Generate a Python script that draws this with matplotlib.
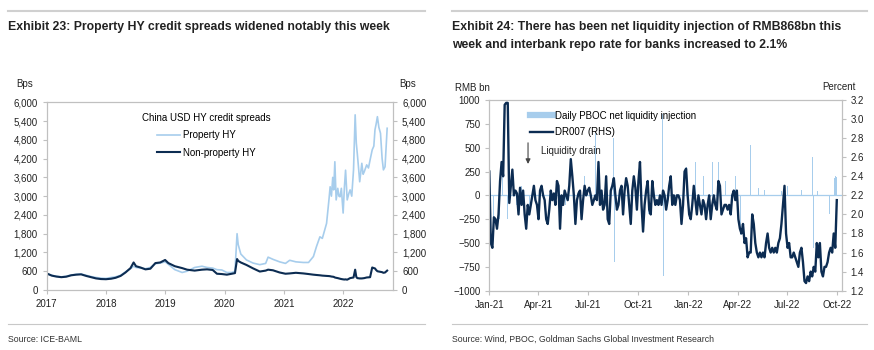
import matplotlib
matplotlib.use("Agg")
import matplotlib.pyplot as plt
import matplotlib.dates as mdates
import matplotlib.ticker as mticker
from matplotlib.lines import Line2D
import pandas as pd

# Exhibit 23: China USD HY credit spreads (bps)
hy_dates = ["2017-01-01", "2017-02-01", "2017-03-01", "2017-04-01", "2017-05-01", "2017-06-01",
            "2017-07-01", "2017-08-01", "2017-09-01", "2017-10-01", "2017-11-01", "2017-12-01",
            "2018-01-01", "2018-02-01", "2018-03-01", "2018-04-01", "2018-05-01", "2018-06-01",
            "2018-06-20", "2018-07-05", "2018-08-01", "2018-09-01", "2018-10-01", "2018-11-01",
            "2018-12-01", "2018-12-31", "2019-01-20", "2019-03-01", "2019-04-15", "2019-05-15",
            "2019-07-01", "2019-08-15", "2019-09-15", "2019-10-20", "2019-11-15", "2019-12-15",
            "2020-01-15", "2020-02-15", "2020-03-05", "2020-03-18", "2020-03-25", "2020-04-10",
            "2020-05-15", "2020-06-25", "2020-08-05", "2020-09-10", "2020-09-25", "2020-10-25",
            "2020-12-05", "2021-01-10", "2021-02-05", "2021-03-15", "2021-04-30", "2021-06-01",
            "2021-07-01", "2021-07-20", "2021-08-10", "2021-08-25", "2021-09-20", "2021-10-05",
            "2021-10-12", "2021-10-20", "2021-10-28", "2021-11-03", "2021-11-10", "2021-11-18",
            "2021-11-28", "2021-12-05", "2021-12-12", "2021-12-20", "2021-12-31", "2022-01-08",
            "2022-01-15", "2022-01-25", "2022-02-05", "2022-02-12", "2022-02-22", "2022-03-05",
            "2022-03-15", "2022-03-22", "2022-03-28", "2022-04-05", "2022-04-12", "2022-04-25",
            "2022-05-03", "2022-05-10", "2022-05-25", "2022-06-05", "2022-06-15", "2022-06-28",
            "2022-07-08", "2022-07-15", "2022-07-22", "2022-07-30", "2022-08-08", "2022-08-18",
            "2022-08-28", "2022-09-05", "2022-09-15", "2022-09-28"]
nonprop_hy = [530, 460, 430, 410, 425, 470,
              490, 500, 450, 410, 370, 350,
              345, 360, 390, 450, 560, 700,
              880, 760, 720, 660, 680, 860,
              880, 960, 860, 760, 700, 650,
              620, 650, 660, 640, 520, 510,
              490, 520, 540, 990, 930, 880,
              800, 690, 590, 620, 650, 630,
              560, 520, 530, 550, 530, 510,
              490, 480, 470, 460, 450, 445,
              440, 430, 425, 420, 400, 390,
              380, 370, 360, 350, 340, 335,
              340, 330, 360, 380, 390, 400,
              650, 420, 380, 375, 370, 370,
              375, 380, 400, 405, 410, 720,
              700, 690, 640, 600, 590, 580,
              570, 550, 560, 620]
prop_hy = [520, 470, 440, 420, 440, 480,
           500, 510, 470, 430, 400, 380,
           370, 400, 420, 470, 580, 680,
           760, 720, 700, 680, 720, 840,
           860, 900, 820, 650, 560, 600,
           720, 760, 720, 700, 650, 640,
           560, 560, 600, 1800, 1450, 1150,
           960, 860, 810, 850, 1050, 980,
           900, 850, 950, 900, 880, 880,
           1070, 1390, 1700, 1650, 2130, 2900,
           3300, 3000, 3600, 3200, 4100, 2880,
           3250, 3000, 2980, 3250, 2460, 3300,
           3830, 2880, 3100, 3200, 3000, 3840,
           5600, 4700, 4370, 3900, 3460, 4050,
           3700, 3780, 4000, 3900, 4160, 4480,
           4600, 5120, 5300, 5540, 5200, 5010,
           4200, 3840, 3940, 5170]

# Exhibit 24: DR007 (percent), roughly every 3 days from Jan-21 to end Sep-22
dr_start, dr_end = "2021-01-01", "2022-09-30"
dr007 = [2.45, 1.70, 1.65, 1.97, 1.95, 1.85, 2.00, 2.35, 2.55, 2.40,
         3.15, 3.17, 3.17, 2.12, 2.30, 2.47, 2.20, 2.25, 2.22, 2.00,
         2.28, 2.10, 2.25, 2.00, 1.85, 2.10, 2.00, 2.10, 2.20, 2.30,
         2.15, 2.10, 1.95, 2.25, 2.30, 2.20, 2.15, 1.95, 1.90, 2.05,
         2.25, 2.15, 2.22, 2.10, 2.35, 2.30, 1.85, 2.20, 2.10, 2.25,
         2.20, 2.15, 2.30, 2.58, 2.40, 2.20, 1.90, 2.15, 2.22, 2.25,
         1.95, 2.15, 2.30, 2.20, 2.25, 2.28, 2.20, 2.10, 2.15, 2.20,
         2.15, 2.55, 2.10, 2.25, 2.05, 2.10, 2.40, 1.95, 1.90, 2.25,
         2.30, 2.38, 2.20, 2.05, 2.10, 2.25, 2.30, 2.00, 2.25, 2.38,
         2.30, 2.10, 1.90, 2.25, 2.40, 2.28, 2.05, 2.35, 2.55, 2.10,
         1.82, 2.10, 2.25, 2.35, 2.05,
         2.00, 2.35, 2.20, 2.10, 2.15, 2.10, 2.20, 2.10, 2.25, 2.20,
         2.05, 2.15, 2.30, 2.40, 2.10, 2.20, 2.10, 2.20, 2.20, 2.15,
         1.90, 2.10, 2.45, 2.48, 2.20, 2.00, 1.95, 2.10, 2.30, 2.15,
         2.00, 2.20, 2.10, 2.00, 2.15, 2.10, 1.95, 2.10, 2.20, 1.95,
         2.10, 2.20, 2.10, 2.05, 2.35, 2.30, 2.00, 2.05, 2.10, 2.10,
         2.05, 2.10, 2.00, 2.20, 2.25, 2.15, 2.25, 1.95, 1.85, 1.80,
         1.90, 1.70, 1.75, 1.55, 1.60, 1.60, 2.00, 1.90, 1.70, 1.60,
         1.55, 1.60, 1.55, 1.60, 1.55, 1.70, 1.80, 1.65, 1.60, 1.65,
         1.60, 1.65, 1.60, 1.70, 1.75, 1.90, 2.10, 2.30, 1.80, 1.65,
         1.70, 1.55, 1.55, 1.60, 1.55, 1.50, 1.45, 1.60, 1.65, 1.50,
         1.30, 1.28, 1.35, 1.30, 1.40, 1.35, 1.45, 1.40, 1.70, 1.55,
         1.70, 1.40, 1.35, 1.45, 1.45, 1.50, 1.60, 1.65, 1.60, 1.80,
         1.65, 2.15]

# daily PBOC net liquidity injection (RMB bn), larger days only
liq_dates = ["2021-01-04", "2021-01-08", "2021-01-15", "2021-01-20", "2021-01-25", "2021-01-28",
             "2021-02-03", "2021-02-08", "2021-02-20", "2021-03-01", "2021-03-15", "2021-04-15",
             "2021-05-20", "2021-06-25", "2021-07-15", "2021-08-16", "2021-08-18", "2021-09-25",
             "2021-10-20", "2021-11-14", "2021-11-16", "2021-12-13", "2021-12-28", "2022-01-14",
             "2022-01-28", "2022-02-14", "2022-02-25", "2022-03-10", "2022-03-29", "2022-04-06",
             "2022-04-25", "2022-05-10", "2022-05-20", "2022-06-20", "2022-07-01", "2022-07-08",
             "2022-07-28", "2022-08-17", "2022-08-18", "2022-08-26", "2022-09-16", "2022-09-26",
             "2022-09-28", "2022-09-29", "2022-09-30"]
liq_values = [-400, -300, -150, -250, 200, 300,
              -250, 250, -100, 100, -150, 100,
              -100, 200, 650, 600, -700, 150,
              -200, 850, -850, 750, 300, 350,
              200, 350, 350, 150, 200, -420,
              530, 80, 60, 50, 100, -80,
              60, 400, -550, 50, -200, 180,
              200, 150, 190]

LIGHT = "#a7cdec"
DARK = "#0c2c52"
FRAME = "#c0c0c0"
TXT = "#222222"

plt.rcParams["font.family"] = ["Liberation Sans", "DejaVu Sans"]
plt.rcParams["font.size"] = 7

fig = plt.figure(figsize=(8.74, 3.5), dpi=100)

title_font = dict(family=["Liberation Sans", "DejaVu Sans"], weight="bold",
                  size=8.8, color="#222222")

# header / footer rules
for x0, x1 in [(8, 425), (452, 867)]:
    fig.add_artist(Line2D([x0 / 874, x1 / 874], [1 - 11 / 350] * 2, color="#d0d0d0", lw=1.5))
    fig.add_artist(Line2D([x0 / 874, x1 / 874], [1 - 324 / 350] * 2, color="#c8c8c8", lw=0.8))

fig.text(8 / 874, 1 - 27 / 350, "Exhibit 23: Property HY credit spreads widened notably this week",
         va="center", ha="left", **title_font)
fig.text(452 / 874, 1 - 27 / 350, "Exhibit 24: There has been net liquidity injection of RMB868bn this",
         va="center", ha="left", **title_font)
fig.text(452 / 874, 1 - 45 / 350, "week and interbank repo rate for banks increased to 2.1%",
         va="center", ha="left", **title_font)

src_font = dict(family=["Liberation Sans", "DejaVu Sans"], size=6.3, color="#333333")
fig.text(8 / 874, 1 - 339 / 350, "Source: ICE-BAML", va="center", ha="left", **src_font)
fig.text(452 / 874, 1 - 339 / 350, "Source: Wind, PBOC, Goldman Sachs Global Investment Research",
         va="center", ha="left", **src_font)


def style_frame(ax):
    for s in ax.spines.values():
        s.set_color(FRAME)
        s.set_linewidth(0.8)
    ax.tick_params(colors=FRAME, labelcolor=TXT, length=3, width=0.8, labelsize=7)


# ---- Exhibit 23 ----
ax1 = fig.add_axes([46.7 / 874, 1 - 290 / 350, (393 - 46.7) / 874, (290 - 102.3) / 350])
d1 = pd.to_datetime(hy_dates)
ax1.plot(d1, prop_hy, color=LIGHT, lw=1.2, label="Property HY")
ax1.plot(d1, nonprop_hy, color=DARK, lw=1.5, label="Non-property HY")
ax1.set_ylim(0, 6000)
ax1.set_xlim(pd.Timestamp("2017-01-01"), pd.Timestamp("2022-11-03"))
ax1.set_yticks(range(0, 6001, 600))
ax1.yaxis.set_major_formatter(mticker.StrMethodFormatter("{x:,.0f}"))
ax1.xaxis.set_major_locator(mdates.YearLocator())
ax1.xaxis.set_major_formatter(mdates.DateFormatter("%Y"))
style_frame(ax1)
ax1r = ax1.twinx()
ax1r.set_ylim(0, 6000)
ax1r.set_yticks(range(0, 6001, 600))
ax1r.yaxis.set_major_formatter(mticker.StrMethodFormatter("{x:,.0f}"))
style_frame(ax1r)
ax1.legend(title="China USD HY credit spreads", loc="upper left",
           bbox_to_anchor=(0.25, 0.99), frameon=False, fontsize=7,
           title_fontsize=7, handlelength=2.4, labelspacing=0.75, handletextpad=0.3)
fig.text(25 / 874, 1 - 84 / 350, "Bps", ha="center", va="center", color=TXT)
fig.text(408 / 874, 1 - 84 / 350, "Bps", ha="center", va="center", color=TXT)

# ---- Exhibit 24 ----
ax2 = fig.add_axes([489.3 / 874, 1 - 290.7 / 350, (841.7 - 489.3) / 874, (290.7 - 100) / 350])
ax2.axhline(0, color=LIGHT, lw=0.9, zorder=1)
ax2.bar(pd.to_datetime(liq_dates), liq_values, width=1.6, color=LIGHT, linewidth=0, zorder=2)
ax2.set_ylim(-1000, 1000)
ax2.set_yticks(range(-1000, 1001, 250))
ax2.set_xlim(pd.Timestamp("2021-01-01"), pd.Timestamp("2022-10-09"))
ax2.xaxis.set_major_locator(mdates.MonthLocator(bymonth=[1, 4, 7, 10]))
ax2.xaxis.set_major_formatter(mdates.DateFormatter("%b-%y"))
style_frame(ax2)
ax2r = ax2.twinx()
dr_d = pd.date_range(dr_start, dr_end, periods=len(dr007))
ax2r.plot(dr_d, dr007, color=DARK, lw=1.7)
ax2r.set_ylim(1.2, 3.2)
ax2r.set_yticks([1.2 + 0.2 * i for i in range(11)])
ax2r.yaxis.set_major_formatter(mticker.StrMethodFormatter("{x:.1f}"))
style_frame(ax2r)
h = [Line2D([], [], color=LIGHT, lw=4.5), Line2D([], [], color=DARK, lw=1.7)]
ax2r.legend(h, ["Daily PBOC net liquidity injection", "DR007 (RHS)"], loc="upper left",
            bbox_to_anchor=(0.09, 0.99), frameon=False, fontsize=7, handlelength=2.4,
            labelspacing=0.7, handletextpad=0.2)
ax2r.annotate("", xy=(pd.Timestamp("2021-03-13"), 2.50), xytext=(pd.Timestamp("2021-03-13"), 2.78),
              arrowprops=dict(arrowstyle="-|>", color="#444444", lw=0.8, mutation_scale=7))
ax2r.text(pd.Timestamp("2021-04-06"), 2.665, "Liquidity drain", fontsize=7, color=TXT, va="center")
fig.text(472 / 874, 1 - 88 / 350, "RMB bn", ha="center", va="center", color=TXT)
fig.text(839 / 874, 1 - 87 / 350, "Percent", ha="center", va="center", color=TXT)

fig.savefig("out.png", dpi=100)
